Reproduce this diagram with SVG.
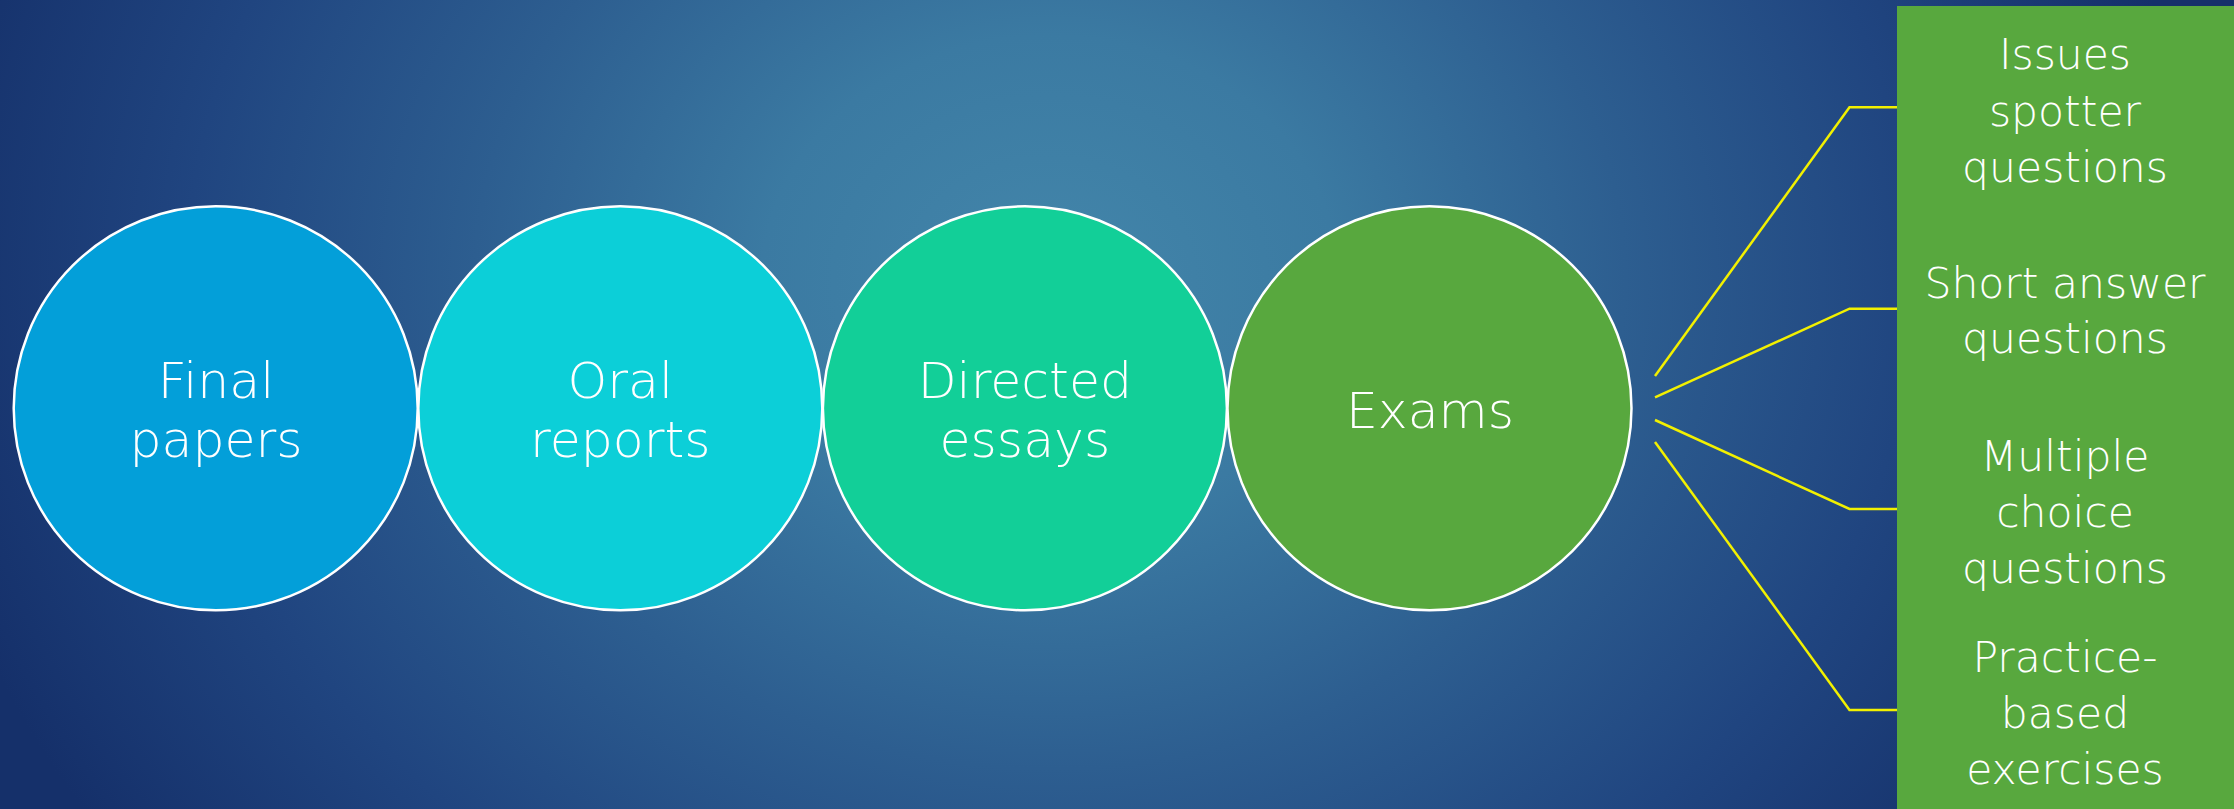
<svg xmlns="http://www.w3.org/2000/svg" width="2234" height="809" viewBox="0 0 2234 809">
  <defs>
    <radialGradient id="bg" gradientUnits="userSpaceOnUse" cx="1050" cy="280" r="1150" gradientTransform="translate(1050 280) scale(1 0.85) translate(-1050 -280)">
      <stop offset="0" stop-color="#4386AA"/>
      <stop offset="0.25" stop-color="#3B7AA2"/>
      <stop offset="0.5" stop-color="#2D5E90"/>
      <stop offset="0.75" stop-color="#204580"/>
      <stop offset="1" stop-color="#15306A"/>
    </radialGradient>
    <style>
      .circ { stroke: #FFFFFF; stroke-width: 2.5; }
      .ct { font-family: "DejaVu Sans", "Liberation Sans", sans-serif; font-weight: 200; font-size: 50.5px; fill: #FFFFFF; text-anchor: middle; }
      .bt { font-family: "DejaVu Sans", "Liberation Sans", sans-serif; font-weight: 200; font-size: 42.5px; fill: #FFFFFF; text-anchor: middle; }
      .conn { fill: none; stroke: #F2F000; stroke-width: 2.5; }
    </style>
  </defs>
  <rect x="0" y="0" width="2234" height="809" fill="url(#bg)"/>

  <g id="connectors">
    <polyline class="conn" points="1655,376 1849.5,107.3 1897,107.3"/>
    <polyline class="conn" points="1655,397.3 1849.5,308.7 1897,308.7"/>
    <polyline class="conn" points="1655,420 1849.5,509 1897,509"/>
    <polyline class="conn" points="1655,442 1849.5,710 1897,710"/>
  </g>

  <g id="node-final-papers">
    <circle class="circ" cx="215.7" cy="408.3" r="202" fill="#039FD9"/>
    <text class="ct" x="216" y="398">Final<tspan x="216" dy="59">papers</tspan></text>
  </g>
  <g id="node-oral-reports">
    <circle class="circ" cx="620.3" cy="408.3" r="202" fill="#0CCFD8"/>
    <text class="ct" x="620.3" y="398">Oral<tspan x="620.3" dy="59">reports</tspan></text>
  </g>
  <g id="node-directed-essays">
    <circle class="circ" cx="1024.9" cy="408.3" r="202" fill="#12CF98"/>
    <text class="ct" x="1024.9" y="398">Directed<tspan x="1024.9" dy="59">essays</tspan></text>
  </g>
  <g id="node-exams">
    <circle class="circ" cx="1429.5" cy="408.3" r="202" fill="#58A83E"/>
    <text class="ct" x="1430" y="427.7">Exams</text>
  </g>

  <g id="node-exam-types">
    <rect x="1897" y="6" width="337" height="803" fill="#58A83E"/>
    <text class="bt" x="2065" y="69.3">Issues<tspan x="2065" dy="56.2">spotter</tspan><tspan x="2065" dy="56.2">questions</tspan></text>
    <text class="bt" x="2065" y="297.7">Short answer<tspan x="2065" dy="55.6">questions</tspan></text>
    <text class="bt" x="2065" y="471">Multiple<tspan x="2065" dy="56.2">choice</tspan><tspan x="2065" dy="56.2">questions</tspan></text>
    <text class="bt" x="2065" y="671.7">Practice-<tspan x="2065" dy="56">based</tspan><tspan x="2065" dy="56">exercises</tspan></text>
  </g>
</svg>
